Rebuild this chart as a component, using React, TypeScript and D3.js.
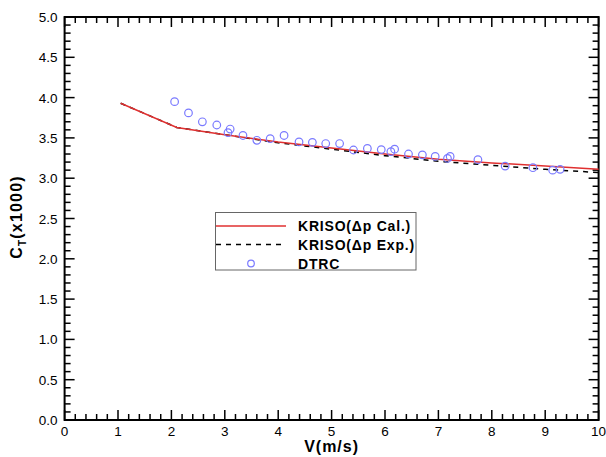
import React from "react";
import * as d3 from "d3";

const xTicks = [0, 1, 2, 3, 4, 5, 6, 7, 8, 9, 10];
const yTicks = [0, 0.5, 1.0, 1.5, 2.0, 2.5, 3.0, 3.5, 4.0, 4.5, 5.0];

const krisoCal: [number, number][] = [
  [1.05, 3.93], [2.1, 3.63], [3, 3.54], [4, 3.45], [5, 3.375], [6, 3.3],
  [7, 3.235], [8, 3.19], [9, 3.15], [10, 3.11],
];
const krisoExp: [number, number][] = [
  [1.05, 3.93], [2.1, 3.63], [3, 3.54], [4, 3.44], [5, 3.36], [6, 3.28],
  [7, 3.21], [8, 3.16], [9, 3.11], [10, 3.07],
];
const dtrc: [number, number][] = [
  [2.06, 3.95], [2.32, 3.81], [2.58, 3.7], [2.85, 3.66], [3.1, 3.61], [3.06, 3.565],
  [3.34, 3.53], [3.6, 3.47], [3.85, 3.49], [4.11, 3.53], [4.39, 3.45], [4.64, 3.445],
  [4.89, 3.43], [5.15, 3.43], [5.41, 3.35], [5.67, 3.37], [5.93, 3.355], [6.18, 3.36],
  [6.11, 3.33], [6.44, 3.3], [6.7, 3.29], [6.94, 3.27], [7.17, 3.245], [7.22, 3.27],
  [7.74, 3.23], [8.25, 3.15], [8.77, 3.13], [9.14, 3.1], [9.28, 3.11],
];

const L = 64.6, R = 598.6, T = 17, B = 420;

export default function App() {
  const x = d3.scaleLinear().domain([0, 10]).range([L, R]);
  const y = d3.scaleLinear().domain([0, 5]).range([B, T]);
  const line = d3.line<[number, number]>().x(d => x(d[0])).y(d => y(d[1]));
  const xMinor = d3.range(0, 10.001, 0.2).filter(v => Math.abs(v - Math.round(v)) > 1e-6);
  const yMinor = d3.range(0, 5.001, 0.1).filter(v => Math.abs(v * 2 - Math.round(v * 2)) > 1e-6);
  const font = "Arial, 'Liberation Sans', sans-serif";
  const maj = 10, min = 6;
  return (
    <svg width={606} height={457} style={{ position: "absolute", left: 0, top: 0, background: "#fff" }} fontFamily={font}>
      <g stroke="#000" strokeWidth={1.5}>
        {xTicks.map(v => (
          <g key={"xm" + v}>
            <line x1={x(v)} x2={x(v)} y1={B} y2={B - maj} />
            <line x1={x(v)} x2={x(v)} y1={T} y2={T + maj} />
          </g>
        ))}
        {xMinor.map(v => (
          <g key={"xn" + v}>
            <line x1={x(v)} x2={x(v)} y1={B} y2={B - min} />
            <line x1={x(v)} x2={x(v)} y1={T} y2={T + min} />
          </g>
        ))}
        {yTicks.map(v => (
          <g key={"ym" + v}>
            <line x1={L} x2={L + maj} y1={y(v)} y2={y(v)} />
            <line x1={R} x2={R - maj} y1={y(v)} y2={y(v)} />
          </g>
        ))}
        {yMinor.map(v => (
          <g key={"yn" + v}>
            <line x1={L} x2={L + min} y1={y(v)} y2={y(v)} />
            <line x1={R} x2={R - min} y1={y(v)} y2={y(v)} />
          </g>
        ))}
      </g>
      <rect x={L} y={T} width={R - L} height={B - T} fill="none" stroke="#000" strokeWidth={2} />
      <g fontSize={13.5} fill="#000">
        {xTicks.map(v => (
          <text key={"xl" + v} x={x(v)} y={B + 16} textAnchor="middle">{v}</text>
        ))}
        {yTicks.map(v => (
          <text key={"yl" + v} x={L - 7} y={y(v) + 5} textAnchor="end">{v.toFixed(1)}</text>
        ))}
      </g>
      <text x={(L + R) / 2} y={451.5} textAnchor="middle" fontSize={16} fontWeight="bold" letterSpacing={1}>V(m/s)</text>
      <text transform={`translate(22,${217}) rotate(-90)`} textAnchor="middle" fontSize={16} fontWeight="bold" letterSpacing={1.2}>
        C<tspan fontSize={10} dy={4}>T</tspan><tspan dy={-4}>(x1000)</tspan>
      </text>
      <path d={line(krisoExp) || ""} fill="none" stroke="#000" strokeWidth={1.5} strokeDasharray="5,5" />
      <path d={line(krisoCal) || ""} fill="none" stroke="#e03030" strokeWidth={1.5} />
      {dtrc.map((d, i) => (
        <circle key={i} cx={x(d[0])} cy={y(d[1])} r={3.8} fill="none" stroke="#7a7aff" strokeWidth={1.2} />
      ))}
      <g>
        <rect x={215.5} y={212.5} width={200.5} height={57.5} fill="#fff" stroke="#666" strokeWidth={1} />
        <line x1={216} x2={286} y1={226} y2={226} stroke="#e03030" strokeWidth={1.5} />
        <line x1={216} x2={286} y1={244.5} y2={244.5} stroke="#000" strokeWidth={1.5} strokeDasharray="5,5" />
        <circle cx={251} cy={263.5} r={3.3} fill="none" stroke="#7a7aff" strokeWidth={1.2} />
        <g fontSize={14} fontWeight="bold" letterSpacing={0.8}>
          <text x={298} y={231}>KRISO(Δp Cal.)</text>
          <text x={298} y={250}>KRISO(Δp Exp.)</text>
          <text x={298} y={269}>DTRC</text>
        </g>
      </g>
    </svg>
  );
}
